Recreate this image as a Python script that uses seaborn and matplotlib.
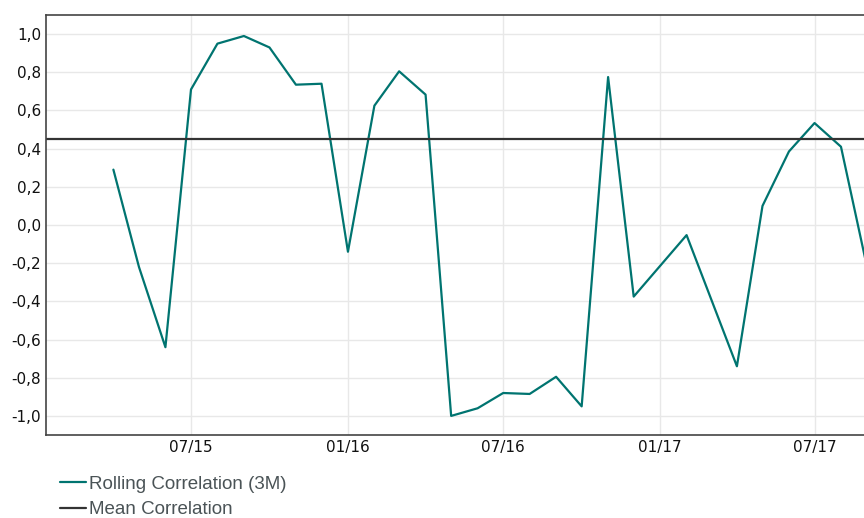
import pandas as pd
import seaborn as sns
import matplotlib.pyplot as plt
import matplotlib.dates as mdates
from matplotlib.ticker import FuncFormatter

# Data (month starts)
dates = ["2015-04-01", "2015-05-01", "2015-06-01", "2015-07-01", "2015-08-01",
         "2015-09-01", "2015-10-01", "2015-11-01", "2015-12-01", "2016-01-01",
         "2016-02-01", "2016-03-01", "2016-04-01", "2016-05-01", "2016-06-01",
         "2016-07-01", "2016-08-01", "2016-09-01", "2016-10-01", "2016-11-01",
         "2016-12-01", "2017-02-01", "2017-04-01", "2017-05-01", "2017-06-01",
         "2017-07-01", "2017-08-01", "2017-09-01"]
rolling_corr = [0.29, -0.22, -0.64, 0.71, 0.95,
                0.99, 0.93, 0.735, 0.74, -0.14,
                0.625, 0.805, 0.683, -1.0, -0.96,
                -0.88, -0.885, -0.795, -0.95, 0.775,
                -0.375, -0.053, -0.74, 0.10, 0.385,
                0.534, 0.41, -0.23]
mean_corr = 0.45

labels = ["Rolling Correlation (3M)", "Mean Correlation"]

df = pd.DataFrame({"date": pd.to_datetime(dates), "corr": rolling_corr})

sns.set_theme(style="white")
plt.rcParams['font.family'] = ['DejaVu Sans']

fig = plt.figure(figsize=(8.64, 5.18), dpi=100)
ax = fig.add_axes([46 / 864, 1 - 435 / 518, 1 - 46 / 864, 420 / 518])

sns.lineplot(data=df, x="date", y="corr", ax=ax, color="#007470", linewidth=1.6,
             label=labels[0], legend=False)
ax.axhline(mean_corr, color="#333333", linewidth=1.6, label=labels[1])

ax.set_xlim(pd.Timestamp("2015-01-12"), pd.Timestamp("2017-08-28"))
ax.set_ylim(-1.1, 1.1)
ax.set_yticks([-1.0, -0.8, -0.6, -0.4, -0.2, 0.0, 0.2, 0.4, 0.6, 0.8, 1.0])
ax.yaxis.set_major_formatter(FuncFormatter(lambda v, p: f"{v:.1f}".replace(".", ",")))
ax.set_xticks(pd.to_datetime(["2015-07-01", "2016-01-01", "2016-07-01",
                              "2017-01-01", "2017-07-01"]))
ax.xaxis.set_major_formatter(mdates.DateFormatter("%m/%y"))
ax.set_xlabel("")
ax.set_ylabel("")
ax.grid(True, color="#e8e8e8", linewidth=1.0)
ax.set_axisbelow(True)
ax.tick_params(axis="both", length=0, labelsize=11, colors="#111111", pad=3.5)

for side in ["left", "bottom", "top"]:
    ax.spines[side].set_color("#444444")
    ax.spines[side].set_linewidth(1.2)
ax.spines["right"].set_visible(False)

handles, lbls = ax.get_legend_handles_labels()
fig.legend(handles, lbls, loc="lower left", bbox_to_anchor=(0.05, -0.033),
           frameon=False, handlelength=1.4, handletextpad=0.15, labelspacing=0.45,
           prop={"family": "Liberation Sans", "size": 13.5}, labelcolor="#4a5356")

fig.savefig("out.png", dpi=100)
